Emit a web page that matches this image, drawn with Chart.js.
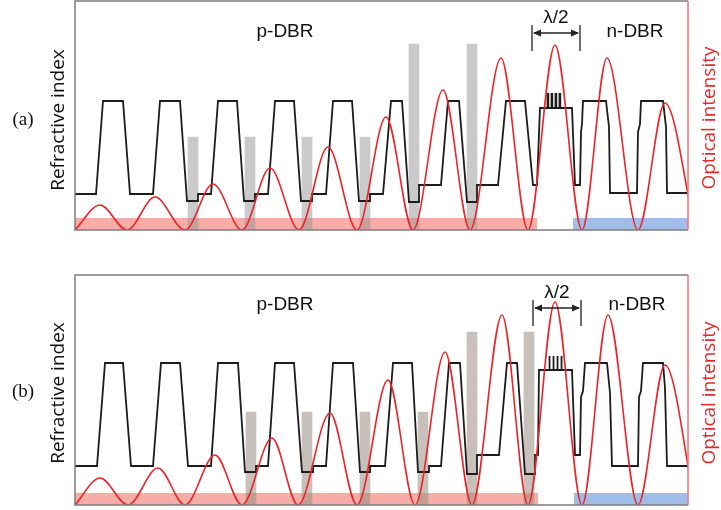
<!DOCTYPE html>
<html>
<head>
<meta charset="utf-8">
<script src="https://cdn.jsdelivr.net/npm/chart.js@4.4.1/dist/chart.umd.min.js"></script>
<style>
  body { margin: 0; background: #fff; }
  #wrap { position: relative; width: 721px; height: 510px; overflow: hidden; }
  canvas { position: absolute; left: 0; }
  .lbl { position: absolute; transform: translate(-50%, -50%); white-space: nowrap; line-height: 1; }
  .rot { transform: translate(-50%, -50%) rotate(-90deg); }
  .sans { font-family: "Liberation Sans", Arial, sans-serif; font-size: 19px; color: #111; }
  .axis { font-family: "Open Sans", sans-serif; font-size: 19px; }
  .tag { font-family: "Liberation Serif", serif; font-size: 19px; color: #111; }
</style>
</head>
<body>
<div id="wrap">
  <canvas id="panelA" width="721" height="255" style="top:0"></canvas>
  <canvas id="panelB" width="721" height="255" style="top:255px"></canvas>

  <div class="lbl tag" style="left:23px;top:118px">(a)</div>
  <div class="lbl axis rot" style="left:57px;top:120px;color:#111">Refractive index</div>
  <div class="lbl axis rot" style="left:708px;top:118px;color:#e8262b">Optical intensity</div>
  <div class="lbl sans" style="left:285px;top:30px">p-DBR</div>
  <div class="lbl sans" style="left:635px;top:30px">n-DBR</div>
  <div class="lbl sans" style="left:556px;top:16px">λ/2</div>

  <div class="lbl tag" style="left:23px;top:390px">(b)</div>
  <div class="lbl axis rot" style="left:57px;top:393px;color:#111">Refractive index</div>
  <div class="lbl axis rot" style="left:708px;top:393px;color:#e8262b">Optical intensity</div>
  <div class="lbl sans" style="left:285px;top:303px">p-DBR</div>
  <div class="lbl sans" style="left:637px;top:303px">n-DBR</div>
  <div class="lbl sans" style="left:557px;top:291px">λ/2</div>
</div>
<script>
// position (a.u.) vs refractive index (a.u.)
const profileA = [[0,36],[21,36],[28,129],[48,129],[55,36],[78,36],[85,129],[105,129],[112,29],[123,29],[123,36],[136,36],
  [143,129],[162,129],[169,29],[180,29],[180,36],[193,36],[200,129],[219,129],[226,29],[237,29],[237,36],[251,36],
  [258,129],[277,129],[284,29],[295,29],[295,36],[308,36],[316,129],[327,129],[334,28],[344,28],[344,45],[366,45],
  [373,129],[384,129],[392,28],[402,28],[402,45],[423,45],[431,129],[450,129],[458,45],[462,45],[465,122],
  [472.5,122],[472.5,136],[473.3,136],[473.3,122],[476.5,122],[476.5,136],[477.3,136],[477.3,122],[480.5,122],
  [480.5,136],[481.3,136],[481.3,122],[484.5,122],[484.5,136],[485.3,136],[485.3,122],[497,122],[500,45],[505,45],
  [506,98],[507,106],[508,129],[531,129],[534,103],[535,37],[562,37],[563,98],[565,106],[566,129],[588,129],
  [591,103],[592,37],[613,37]];
const profileB = [[0,39],[22,39],[30,142],[48,142],[56,39],[78,39],[86,142],[105,142],[113,39],[136,39],[143,142],
  [163,142],[170,33],[181,33],[181,39],[193,39],[200,142],[219,142],[227,33],[238,33],[238,39],[251,39],[258,142],
  [278,142],[285,33],[295,33],[295,39],[310,39],[318,142],[337,142],[343,33],[354,33],[354,39],[366,39],[374,142],
  [385,142],[392,31],[402,31],[402,50],[424,50],[432,142],[442,142],[450,31],[460,31],[460,50],[463,50],[464,135],
  [474,135],[474,149],[474.8,149],[474.8,135],[478,135],[478,149],[478.8,149],[478.8,135],[482,135],[482,149],
  [482.8,149],[482.8,135],[486,135],[486,149],[486.8,149],[486.8,135],[497,135],[500,50],[505,50],[506,108],
  [508,114],[510,142],[532,142],[535,112],[537,39],[563,39],[564,108],[566,114],[568,142],[588,142],[590,117],
  [592,39],[613,39]];

// optical intensity: zeros and maxima of the standing wave
const waveA = [[0,0],[25,25],[52,0],[80,33],[110,0],[138,46],[167,0],[195,62],[224,0],[253,83],[282,0],[311,113],
  [338,0],[368,140],[395,0],[426,172],[453,0],[480,185],[507,0],[532,172],[563,0],[590,127],[620,0]];
const waveB = [[0,0],[25,27],[53,0],[83,37],[110,0],[140,50],[167,0],[197,67],[223,0],[255,92],[282,0],[313,125],
  [340,0],[370,153],[397,0],[427,190],[453,0],[480,203],[507,0],[533,190],[563,0],[590,140],[620,0]];

// gray bars: position, height
const barsA = [[118,93],[175,93],[232,93],[290,93],[339,186],[397,186]];
const barsB = [[176,93],[232,93],[290,93],[348,93],[397,173],[454,173]];

// p-side and n-side bands: start, end
const pBandA = [0, 462], nBandA = [498, 613];
const pBandB = [0, 463], nBandB = [499, 613];
const bandHeight = 12;

// lambda/2 markers
const halfWaveA = [457, 505];
const halfWaveB = [458, 506];

const xRange = [0, 613];

const pts = arr => arr.map(p => ({x: p[0], y: p[1]}));
const band = r => [{x: r[0], y: bandHeight}, {x: r[1], y: bandHeight}];

const framePlugin = {
    id: 'frame',
    afterDatasetsDraw(chart, args, opts) {
        const {ctx, chartArea: a, scales} = chart;
        ctx.save();
        ctx.lineWidth = 1.5;
        ctx.strokeStyle = '#7d7d7d';
        ctx.beginPath();
        ctx.moveTo(a.right, a.top); ctx.lineTo(a.left, a.top);
        ctx.lineTo(a.left, a.bottom); ctx.lineTo(a.right, a.bottom);
        ctx.stroke();
        ctx.strokeStyle = '#f07474';
        ctx.beginPath();
        ctx.moveTo(a.right, a.top); ctx.lineTo(a.right, a.bottom);
        ctx.stroke();

        // lambda/2 arrow
        const x1 = scales.x.getPixelForValue(opts.half[0]);
        const x2 = scales.x.getPixelForValue(opts.half[1]);
        const ya = scales.y.getPixelForValue(197);
        const yt = scales.y.getPixelForValue(205), yb = scales.y.getPixelForValue(179);
        ctx.strokeStyle = '#222';
        ctx.fillStyle = '#222';
        ctx.lineWidth = 1.3;
        ctx.beginPath();
        ctx.moveTo(x1, yt); ctx.lineTo(x1, yb);
        ctx.moveTo(x2, yt); ctx.lineTo(x2, yb);
        ctx.moveTo(x1 + 2, ya); ctx.lineTo(x2 - 2, ya);
        ctx.stroke();
        ctx.beginPath();
        ctx.moveTo(x1 + 1, ya); ctx.lineTo(x1 + 9, ya - 3.5); ctx.lineTo(x1 + 9, ya + 3.5); ctx.closePath();
        ctx.moveTo(x2 - 1, ya); ctx.lineTo(x2 - 9, ya - 3.5); ctx.lineTo(x2 - 9, ya + 3.5); ctx.closePath();
        ctx.fill();
        ctx.restore();
    }
};

function makePanel(id, profile, wave, bars, barColor, pBand, nBand, half, yMax, pad) {
    new Chart(document.getElementById(id), {
        type: 'line',
        data: {
            datasets: [
                {
                    label: 'Optical intensity',
                    data: pts(wave),
                    borderColor: '#ec2328',
                    borderWidth: 1.6,
                    pointRadius: 0,
                    cubicInterpolationMode: 'monotone',
                    order: 0
                },
                {
                    label: 'Refractive index',
                    data: pts(profile),
                    borderColor: '#1c1c1c',
                    borderWidth: 1.8,
                    pointRadius: 0,
                    tension: 0,
                    order: 1
                },
                {
                    type: 'bar',
                    label: 'bars',
                    data: pts(bars),
                    backgroundColor: barColor,
                    borderWidth: 0,
                    barThickness: 10,
                    order: 2
                },
                {
                    label: 'p band',
                    data: band(pBand),
                    backgroundColor: 'rgba(240,105,95,0.55)',
                    borderWidth: 0,
                    pointRadius: 0,
                    fill: 'origin',
                    order: 3
                },
                {
                    label: 'n band',
                    data: band(nBand),
                    backgroundColor: 'rgba(95,145,215,0.6)',
                    borderWidth: 0,
                    pointRadius: 0,
                    fill: 'origin',
                    order: 3
                }
            ]
        },
        options: {
            responsive: false,
            animation: false,
            layout: { padding: pad },
            plugins: {
                legend: { display: false },
                tooltip: { enabled: false },
                frame: { half: half }
            },
            scales: {
                x: { type: 'linear', display: false, min: xRange[0], max: xRange[1], offset: false },
                y: { display: false, min: 0, max: yMax }
            }
        },
        plugins: [framePlugin]
    });
}

makePanel('panelA', profileA, waveA, barsA, 'rgba(150,150,150,0.5)', pBandA, nBandA, halfWaveA, 229,
    {left: 75, top: 1, right: 33, bottom: 25});
makePanel('panelB', profileB, waveB, barsB, 'rgba(155,140,132,0.55)', pBandB, nBandB, halfWaveB, 230,
    {left: 75, top: 20, right: 33, bottom: 5});
</script>
</body>
</html>
